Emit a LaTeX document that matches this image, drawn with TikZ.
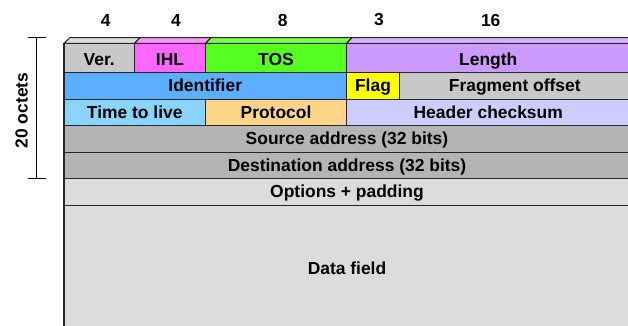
\documentclass[tikz,border=0pt]{standalone}
\usepackage{fontspec}
\setmainfont{Liberation Sans}
\definecolor{verc}{HTML}{C8C8C8}
\definecolor{ihlc}{HTML}{FF66FF}
\definecolor{tosc}{HTML}{55FF22}
\definecolor{lenc}{HTML}{CC99FF}
\definecolor{idc}{HTML}{5CAEFF}
\definecolor{flagc}{HTML}{FFFF00}
\definecolor{fragc}{HTML}{C8C8C8}
\definecolor{ttlc}{HTML}{88D4FF}
\definecolor{protc}{HTML}{FFD488}
\definecolor{chkc}{HTML}{CCCCFF}
\definecolor{addrc}{HTML}{B4B4B4}
\definecolor{optc}{HTML}{DCDCDC}
\tikzset{
  cell/.style={draw=black!85, line width=1.2bp, inner sep=0pt, text height=14bp, text depth=2bp, font=\fontsize{17.5}{20}\selectfont\bfseries},
  topcell/.style={cell, text depth=0bp, minimum height=29.4bp},
  bits/.style={inner sep=0pt, font=\fontsize{17.5}{20}\selectfont\bfseries},
  bevel/.style={draw=black!85, line width=1bp}
}
\begin{document}
\begin{tikzpicture}[x=1bp,y=-1bp]
\useasboundingbox (0,0) rectangle (628,325);
% bit widths
\node[bits] (b1) at (105.7,20) {4};
\node[bits] (b2) at (176,20) {4};
\node[bits] (b3) at (282.7,20) {8};
\node[bits] (b4) at (379,20) {3};
\node[bits] (b5) at (490.7,20) {16};
% top bevel
\draw[bevel, fill=verc!65!white] (64,43.3) -- (70,37.5) -- (140.5,37.5) -- (134.5,43.3) -- cycle;
\draw[bevel, fill=ihlc!70!white] (134.5,43.3) -- (140.5,37.5) -- (211.5,37.5) -- (205.5,43.3) -- cycle;
\draw[bevel, fill=tosc!80!white] (205.5,43.3) -- (211.5,37.5) -- (352.5,37.5) -- (346.5,43.3) -- cycle;
\draw[bevel, fill=lenc!75!white] (346.5,43.3) -- (352.5,37.5) -- (640,37.5) -- (640,43.3) -- cycle;
% header words
\node[topcell, fill=verc, minimum width=70.5bp] (ver) at (99.25,58) {Ver.};
\node[topcell, fill=ihlc, minimum width=71bp] (ihl) at (170,58) {IHL};
\node[topcell, fill=tosc, minimum width=141bp] (tos) at (276,58) {TOS};
\node[topcell, fill=lenc, minimum width=283.5bp] (len) at (488.25,58) {Length};
\node[cell, fill=idc, minimum width=282.5bp, minimum height=26.5bp] (ident) at (205.25,85.95) {Identifier};
\node[cell, fill=flagc, minimum width=53bp, minimum height=26.5bp] (flag) at (373,85.95) {Flag};
\node[cell, fill=fragc, minimum width=230.5bp, minimum height=26.5bp] (frag) at (514.75,85.95) {Fragment offset};
\node[cell, fill=ttlc, minimum width=141.5bp, minimum height=26.5bp] (ttl) at (134.75,112.45) {Time to live};
\node[cell, fill=protc, minimum width=141bp, minimum height=26.5bp] (prot) at (276,112.45) {Protocol};
\node[cell, fill=chkc, minimum width=283.5bp, minimum height=26.5bp] (chk) at (488.25,112.45) {Header checksum};
\node[cell, fill=addrc, minimum width=566bp, minimum height=26.5bp] (src) at (347,138.95) {Source address (32 bits)};
\node[cell, fill=addrc, minimum width=566bp, minimum height=26.5bp] (dst) at (347,165.45) {Destination address (32 bits)};
\node[cell, fill=optc, minimum width=566bp, minimum height=26.5bp] (opt) at (347,191.95) {Options + padding};
\node[cell, fill=optc, minimum width=566bp, minimum height=126bp] (data) at (347,268.2) {Data field};
% 20 octets
\coordinate (oct1) at (36.5,37.5);
\coordinate (oct2) at (36.5,178.5);
\draw[line width=1bp] (oct1) -- (oct2) ([xshift=-9bp]oct1) -- ([xshift=9bp]oct1) ([xshift=-9bp]oct2) -- ([xshift=9bp]oct2);
\node[bits, rotate=90] (oct) at (21.7,110.5) {20 octets};
\end{tikzpicture}
\end{document}
